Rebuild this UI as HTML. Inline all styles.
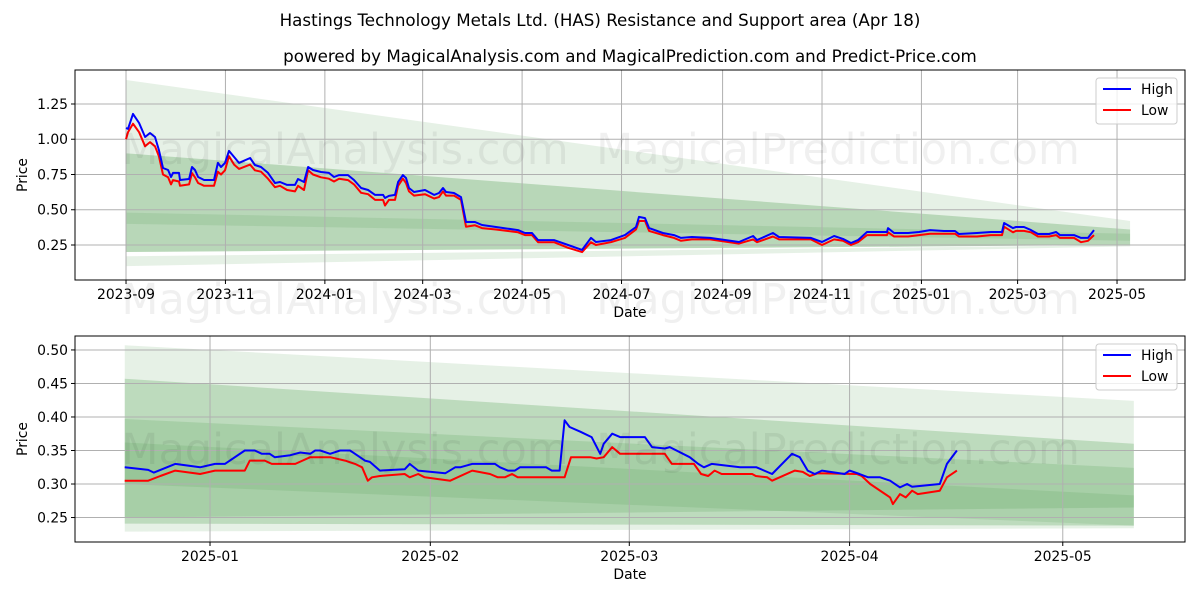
<!DOCTYPE html>
<html><head><meta charset="utf-8"><style>
body{margin:0;background:#fff;}
svg{display:block;font-family:"DejaVu Sans","Liberation Sans",sans-serif;}
</style></head><body>
<svg id="chart" width="1200" height="600" xmlns="http://www.w3.org/2000/svg">
<rect width="1200" height="600" fill="#fff"/>
<text x="600" y="26" text-anchor="middle" font-size="16.7" fill="#000">Hastings Technology Metals Ltd. (HAS) Resistance and Support area (Apr 18)</text>
<text x="630" y="62" text-anchor="middle" font-size="16.7" fill="#000">powered by MagicalAnalysis.com and MagicalPrediction.com and Predict-Price.com</text>
<g id="top"></g>
<g id="bot"></g>
<g id="wm"></g>
</svg>
<script>
// ---- top chart data (days since 2023-09-01) ----
const topDays=[0,1.2,4.3,8,11.7,14.7,17.8,20.2,22.7,25.8,27.6,28.8,32.5,33.1,38.7,40.5,42.3,44.2,47.9,54,56.4,58.3,60.7,63.2,66.3,69.3,76.1,79.1,82.8,87.1,91.4,94.5,98.8,103.7,105.5,109.2,111.7,114.7,119.6,124.5,127.6,130.7,136.2,139.9,144.2,148.5,152.8,157.7,158.9,161.3,165,166.9,169.9,171.8,173.6,176.7,183.4,189,192,194.5,196.3,201.2,205.5,208.6,214.1,218.4,227,240.5,244.8,249.1,252.8,262.6,271.2,279.8,285.3,288.3,297.5,306.1,312.9,314.7,318.4,320.9,329.4,336.2,340.5,347.2,358.3,376.1,384.7,387.1,396.9,400.6,420.2,427,434.4,439.9,444.8,449.1,454.6,466.9,467.5,471.2,479.8,486.5,493.3,501.8,508.6,511,522.1,530.7,537.4,538.7,544.2,546,550.9,555.2,559.5,566.3,570.6,573,581.6,585.9,590.2,593.9];
const topHigh=[1.08,1.073,1.18,1.115,1.016,1.044,1.016,0.924,0.796,0.782,0.732,0.761,0.761,0.711,0.718,0.803,0.782,0.732,0.711,0.711,0.832,0.803,0.832,0.917,0.874,0.832,0.867,0.817,0.803,0.761,0.69,0.697,0.676,0.676,0.718,0.697,0.803,0.782,0.768,0.761,0.732,0.746,0.746,0.711,0.654,0.64,0.605,0.605,0.583,0.598,0.605,0.697,0.746,0.725,0.654,0.626,0.64,0.605,0.619,0.654,0.626,0.619,0.59,0.413,0.413,0.392,0.378,0.356,0.335,0.335,0.285,0.285,0.25,0.215,0.30,0.271,0.285,0.32,0.378,0.449,0.441,0.37,0.335,0.32,0.30,0.307,0.30,0.271,0.314,0.285,0.335,0.307,0.30,0.271,0.314,0.293,0.264,0.285,0.342,0.342,0.37,0.335,0.335,0.342,0.356,0.349,0.349,0.328,0.335,0.342,0.342,0.406,0.37,0.378,0.378,0.356,0.328,0.328,0.342,0.32,0.32,0.30,0.30,0.356];
const topLow=[1.0,1.05,1.11,1.05,0.95,0.98,0.95,0.88,0.75,0.73,0.68,0.71,0.70,0.67,0.68,0.76,0.73,0.69,0.67,0.67,0.77,0.75,0.78,0.88,0.82,0.79,0.82,0.78,0.77,0.72,0.66,0.67,0.64,0.63,0.67,0.64,0.78,0.75,0.73,0.72,0.70,0.72,0.71,0.68,0.62,0.61,0.57,0.57,0.53,0.57,0.57,0.67,0.72,0.69,0.63,0.60,0.61,0.58,0.59,0.63,0.60,0.60,0.57,0.38,0.39,0.37,0.36,0.34,0.32,0.32,0.27,0.27,0.23,0.20,0.27,0.25,0.27,0.30,0.36,0.42,0.42,0.35,0.32,0.30,0.28,0.29,0.29,0.26,0.29,0.27,0.31,0.29,0.29,0.25,0.29,0.28,0.25,0.27,0.32,0.32,0.34,0.31,0.31,0.32,0.33,0.33,0.33,0.31,0.31,0.32,0.32,0.38,0.34,0.35,0.35,0.34,0.31,0.31,0.32,0.30,0.30,0.27,0.28,0.32];
const topXTicks=["2023-09","2023-11","2024-01","2024-03","2024-05","2024-07","2024-09","2024-11","2025-01","2025-03","2025-05"];
const topXTickDays=[0,61,122,182,243,304,366,427,488,547,608];
const topYTicks=[0.25,0.5,0.75,1.0,1.25];
const topBandStartTop=[1.42,0.90,0.48,0.17];
const topBandEndTop=[0.42,0.36,0.33,0.25];
const topBandStartBot=[0.20,0.20,0.40,0.10];
const topBandEndBot=[0.25,0.25,0.28,0.24];

// ---- bottom chart data (days since 2025-01-01) ----
const botHighDays=[-12,-8.7,-7.9,-4.9,-1.4,0.7,2.1,4.9,6.3,7.3,8.4,9.1,11.3,12.7,14.1,14.8,15.5,16.9,18.3,19.7,20.4,21.8,22.5,23.9,27.4,28.1,29.3,33.1,34.5,35.2,36.9,40.1,40.8,41.9,42.9,43.6,47.3,48.1,49.2,49.9,50.6,52.1,53.7,54.9,55.4,56.6,57.7,61.2,62.2,64,64.7,67.5,68.7,69.5,70.6,74.6,76.9,79.1,81.9,83,84.1,85.1,86.1,89.3,90,91.4,92.6,94.3,95.7,97.1,98.1,98.8,102.7,103.7,105.1];
const botHigh=[0.325,0.321,0.317,0.330,0.325,0.330,0.330,0.350,0.350,0.345,0.345,0.340,0.343,0.347,0.345,0.350,0.350,0.345,0.350,0.350,0.345,0.335,0.333,0.320,0.322,0.330,0.320,0.316,0.325,0.325,0.330,0.330,0.325,0.320,0.320,0.325,0.325,0.320,0.320,0.395,0.385,0.378,0.370,0.345,0.360,0.375,0.370,0.370,0.355,0.353,0.355,0.340,0.330,0.325,0.330,0.325,0.325,0.315,0.345,0.340,0.320,0.315,0.320,0.315,0.320,0.315,0.310,0.310,0.305,0.295,0.300,0.296,0.300,0.330,0.350];
const botLowDays=[-12,-8.7,-7,-4.9,-1.4,0.7,4.9,5.6,7.7,8.7,12,14.1,16.9,19,20.4,21.4,22.2,22.8,23.9,27.4,28.1,29.3,30.2,33.8,36.9,39.4,40.5,41.5,42.5,43.3,49.9,50.8,53.5,54.4,55.4,56.6,57.7,64,65,68.1,69.1,70.1,71,72,76.3,76.8,78.4,79.1,82.3,83.4,84.4,85.5,91,91.7,92.9,95.7,96.1,97.1,97.9,98.8,99.6,102.7,103.7,105.1];
const botLow=[0.305,0.305,0.312,0.320,0.315,0.320,0.320,0.335,0.335,0.330,0.330,0.340,0.340,0.335,0.330,0.325,0.305,0.310,0.312,0.315,0.310,0.315,0.310,0.305,0.320,0.315,0.310,0.310,0.315,0.310,0.310,0.340,0.340,0.338,0.340,0.355,0.345,0.345,0.330,0.330,0.315,0.312,0.320,0.315,0.315,0.312,0.310,0.305,0.320,0.318,0.312,0.316,0.315,0.312,0.300,0.280,0.270,0.285,0.280,0.290,0.285,0.290,0.310,0.320];
const botXTicks=["2025-01","2025-02","2025-03","2025-04","2025-05"];
const botXTickDays=[0,31,59,90,120];
const botYTicks=[0.25,0.30,0.35,0.40,0.45,0.50];
const botBandStartTop=[0.507,0.457,0.397,0.362];
const botBandEndTop=[0.424,0.360,0.324,0.283];
const botBandStartBot=[0.229,0.241,0.250,0.300];
const botBandEndBot=[0.234,0.238,0.265,0.238];

const NS="http://www.w3.org/2000/svg";
function mk(parent,tag,attrs){const e=document.createElementNS(NS,tag);for(const k in attrs)e.setAttribute(k,attrs[k]);parent.appendChild(e);return e;}

function panel(g,o){
  const L=75,R=1185,T=o.top,B=o.bottom;
  const xs=d=>L+(d-o.x0)/(o.x1-o.x0)*(R-L);
  const ys=v=>B-(v-o.y0)/(o.y1-o.y0)*(B-T);
  for(let i=0;i<o.bst.length;i++){
    const a=xs(o.bandD0),b=xs(o.bandD1);
    const p=mk(g,'polygon',{points:`${a},${ys(o.bst[i])} ${b},${ys(o.bet[i])} ${b},${ys(o.beb[i])} ${a},${ys(o.bsb[i])}`,fill:'#2e8b2e','fill-opacity':o.op[i]});
    
    
  }
  o.xtd.forEach((d,i)=>{
    const x=xs(d);
    const l=mk(g,'line',{x1:x,x2:x,y1:T,y2:B,stroke:'#b0b0b0','stroke-width':1});
    
    
    mk(g,'line',{x1:x,x2:x,y1:B,y2:B+4,stroke:'#000'});
    const t=mk(g,'text',{x:x,y:B+19,'text-anchor':'middle','font-size':13.9});
    t.textContent=o.xt[i];
    
    
  });
  o.yt.forEach(v=>{
    const y=ys(v);
    const l=mk(g,'line',{x1:L,x2:R,y1:y,y2:y,stroke:'#b0b0b0','stroke-width':1});
    
    
    mk(g,'line',{x1:L-4,x2:L,y1:y,y2:y,stroke:'#000'});
    const t=mk(g,'text',{x:L-7,y:y+5,'text-anchor':'end','font-size':13.9});
    t.textContent=v.toFixed(2);
    
    
  });
  const line=(days,vals,col,name)=>{
    const n=Math.min(days.length,vals.length);
    let pts=[];for(let i=0;i<n;i++)pts.push(xs(days[i]).toFixed(1)+','+ys(vals[i]).toFixed(1));
    const p=mk(g,'polyline',{points:pts.join(' '),fill:'none',stroke:col,'stroke-width':2,'stroke-linejoin':'round'});
    
    
  };
  line(o.ld,o.lo,'#ff0000','low-line');
  line(o.hd,o.hi,'#0000ff','high-line');
  const f=mk(g,'rect',{x:L,y:T,width:R-L,height:B-T,fill:'none',stroke:'#000','stroke-width':1});
  
  
  const xl=mk(g,'text',{x:(L+R)/2,y:B+37,'text-anchor':'middle','font-size':13.9});
  xl.textContent='Date';
  
  
  const yl=mk(g,'text',{x:0,y:0,'text-anchor':'middle','font-size':13.9,transform:`translate(27,${(T+B)/2}) rotate(-90)`});
  yl.textContent='Price';
  
  
  const lg=mk(g,'g',{});
  
  
  mk(lg,'rect',{x:1096,y:T+8,width:81,height:46,rx:3,fill:'#fff','fill-opacity':0.8,stroke:'#ccc'});
  [['High','#0000ff',0],['Low','#ff0000',21]].forEach(e=>{
    const y=T+19+e[2];
    mk(lg,'line',{x1:1103,x2:1131,y1:y,y2:y,stroke:e[1],'stroke-width':2});
    const t=mk(lg,'text',{x:1141,y:y+5,'font-size':13.9});
    t.textContent=e[0];
    
    
  });
}
panel(document.getElementById('top'),{top:70,bottom:280,x0:-31.3,x1:649.7,y0:0.0018,y1:1.491,
  bandD0:0,bandD1:616,bst:topBandStartTop,bet:topBandEndTop,bsb:topBandStartBot,beb:topBandEndBot,op:[0.12,0.25,0.12,0.12],
  xt:topXTicks,xtd:topXTickDays,yt:topYTicks,hd:topDays,hi:topHigh,ld:topDays,lo:topLow});
panel(document.getElementById('bot'),{top:336,bottom:542,x0:-19,x1:137.2,y0:0.2135,y1:0.5208,
  bandD0:-12,bandD1:130,bst:botBandStartTop,bet:botBandEndTop,bsb:botBandStartBot,beb:botBandEndBot,op:[0.12,0.22,0.15,0.12],
  xt:botXTicks,xtd:botXTickDays,yt:botYTicks,hd:botHighDays,hi:botHigh,ld:botLowDays,lo:botLow});
// figure-level watermarks
const wm=document.getElementById('wm');
[[345,164],[345,314],[838,164],[838,314],[345,464],[838,464]].forEach((p,i)=>{
  const t=mk(wm,'text',{x:p[0],y:p[1],'text-anchor':'middle','font-size':43,fill:'#000','fill-opacity':0.06});
  t.textContent=(i%2===0||i===1)?(p[0]<600?'MagicalAnalysis.com':'MagicalPrediction.com'):(p[0]<600?'MagicalAnalysis.com':'MagicalPrediction.com');
  
  
});
</script>
</body></html>
